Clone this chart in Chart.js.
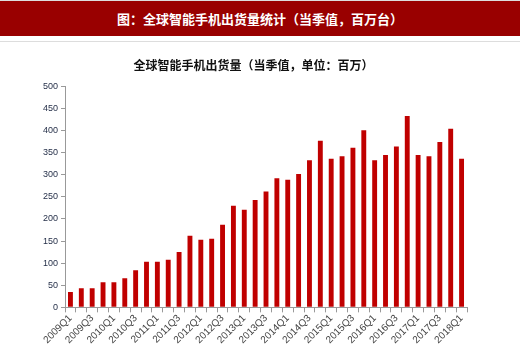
<!DOCTYPE html>
<html>
<head>
<meta charset="utf-8">
<script src="https://cdn.jsdelivr.net/npm/chart.js@4/dist/chart.umd.min.js"></script>
<style>
  body { margin: 0; background: #fff; width: 520px; height: 354px; overflow: hidden; }
  #top { height: 35px; background: #990000; color: #fff; font: bold 13px "Noto Sans CJK SC", sans-serif;
         text-align: center; line-height: 35px; border-top: 1px solid #ddd; }
  #sep { height: 1px; background: #ddd; margin-top: 5px; }
  #wrap { width: 520px; height: 312px; }
</style>
</head>
<body>
<div id="top">图：全球智能手机出货量统计（当季值，百万台）</div>
<div id="sep"></div>
<div id="wrap"><canvas id="grafico"></canvas></div>
<script>
// trimestres 2009Q1 .. 2018Q1
const trimestres = [];
for (let a = 2009; a <= 2018; a++) {
    for (let q = 1; q <= 4; q++) {
        if (a === 2018 && q > 1) break;
        trimestres.push(a + 'Q' + q);
    }
}
const envios = [35, 43, 43, 57, 57, 66, 84, 103, 103, 108, 125, 162, 153, 155, 187, 230, 221, 243, 262,
    292, 289, 302, 333, 377, 336, 342, 361, 401, 333, 345, 364, 433, 345, 342, 374, 404, 336];
const ticksY = [0, 50, 100, 150, 200, 250, 300, 350, 400, 450, 500];

const ctx = document.getElementById('grafico').getContext('2d');
new Chart(ctx, {
    type: 'bar',
    data: {
        labels: trimestres,
        datasets: [{
            data: envios,
            backgroundColor: '#c00000',
            borderWidth: 0,
            barPercentage: 0.45,
            categoryPercentage: 1
        }]
    },
    options: {
        responsive: true,
        maintainAspectRatio: false,
        animation: false,
        layout: { padding: { left: 40, right: 53, top: 4, bottom: 8 } },
        plugins: {
            legend: { display: false },
            tooltip: { enabled: false },
            title: {
                display: true,
                text: '全球智能手机出货量（当季值，单位：百万）',
                color: '#111',
                font: { family: '"Noto Sans CJK SC"', size: 12, weight: 'bold' },
                padding: { top: 12, bottom: 14 }
            }
        },
        scales: {
            y: {
                min: 0,
                max: 500,
                afterBuildTicks: axis => { axis.ticks = ticksY.map(v => ({ value: v })); },
                ticks: { color: '#1f2a44', font: { family: 'Liberation Sans', size: 9 }, padding: 3 },
                grid: { drawOnChartArea: false, tickLength: 4, color: '#999' },
                border: { color: '#999' }
            },
            x: {
                ticks: {
                    autoSkip: false,
                    maxRotation: 45,
                    minRotation: 45,
                    color: '#444',
                    font: { family: 'Liberation Sans', size: 10 },
                    padding: 0,
                    callback: function (v, i) { return i % 2 === 0 ? this.getLabelForValue(v) : ''; }
                },
                grid: { drawOnChartArea: false, offset: true, tickLength: 5, color: '#999' },
                border: { color: '#999' }
            }
        }
    }
});
</script>
</body>
</html>
